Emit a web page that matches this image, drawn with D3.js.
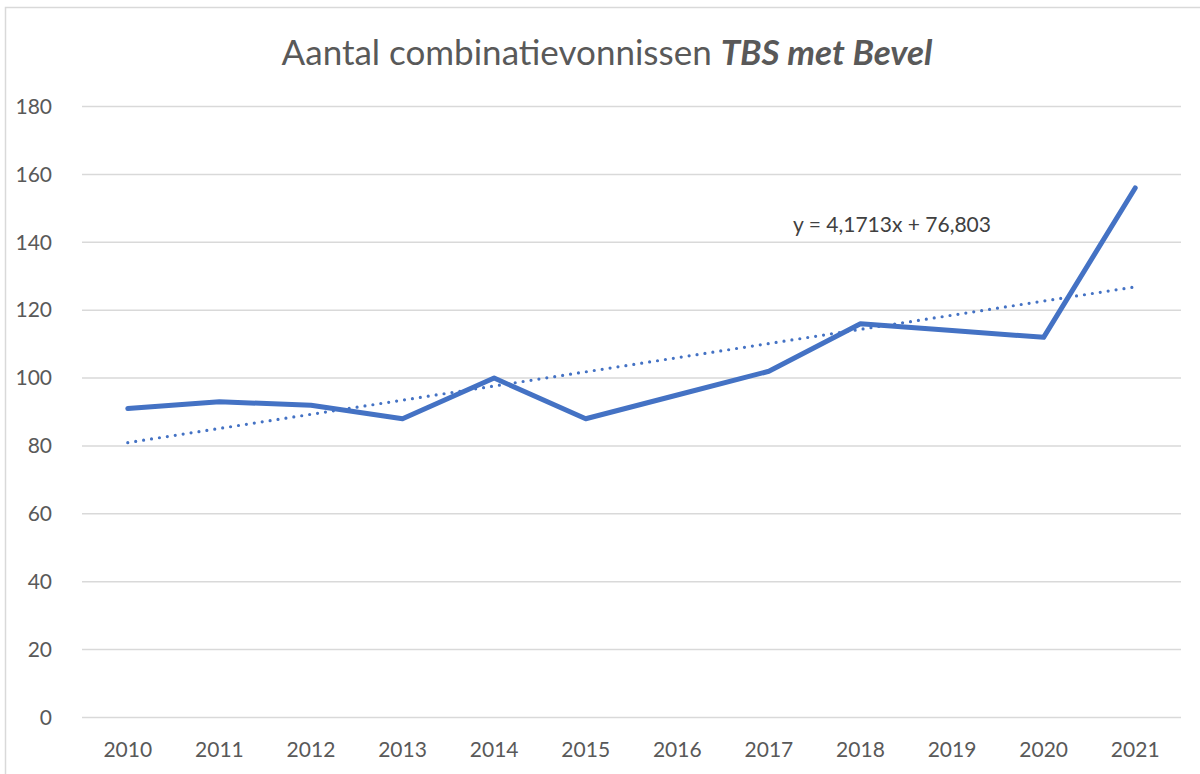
<!DOCTYPE html>
<html><head><meta charset="utf-8">
<script src="https://cdn.jsdelivr.net/npm/d3@7"></script>
<style>body{margin:0;background:#fff;} svg{display:block;}</style>
</head><body>
<script>
const years = ["2010","2011","2012","2013","2014","2015","2016","2017","2018","2019","2020","2021"];
const values = [91,93,92,88,100,88,95,102,116,114,112,156];
const yTicks = [0,20,40,60,80,100,120,140,160,180];
const trendSlope = 4.1713;
const trendIntercept = 76.803;
const trendLabel = "y = 4,1713x + 76,803";
const titleMain = "Aantal combinatievonnissen ";
const titleBold = "TBS met Bevel";

const W = 1200, H = 774;
const FONT = "Lato, 'Open Sans', sans-serif";
const svg = d3.select("body").append("svg").attr("width", W).attr("height", H);

svg.append("rect").attr("x",5.5).attr("y",7.5).attr("width",W+20).attr("height",H+20)
  .attr("fill","#fff").attr("stroke","#d9d9d9").attr("stroke-width",1.5);

const x = d3.scaleBand().domain(years).range([82,1181]);
const y = d3.scaleLinear().domain([0,180]).range([717.5,106.5]);

const title = svg.append("text").attr("x",607).attr("y",65).attr("text-anchor","middle")
  .attr("font-family",FONT).attr("font-size",35).attr("fill","#595959");
title.append("tspan").text(titleMain);
title.append("tspan").attr("font-weight","bold").attr("font-style","italic").text(titleBold);

// gridlines
svg.append("g").selectAll("line").data(yTicks).join("line")
  .attr("x1",82).attr("x2",1181).attr("y1",d=>y(d)).attr("y2",d=>y(d))
  .attr("stroke","#d9d9d9").attr("stroke-width",1.5);

// y axis labels
const yAxis = d3.axisLeft(y).tickValues(yTicks).tickSize(0).tickPadding(0);
const gy = svg.append("g").attr("transform","translate(52,0)").call(yAxis);
gy.select(".domain").remove();
gy.selectAll("text").attr("font-family",FONT).attr("font-size",21).attr("fill","#595959");

// x axis labels
const xAxis = d3.axisBottom(x).tickSize(0).tickPadding(0);
const gx = svg.append("g").attr("transform","translate(0,742)").call(xAxis);
gx.select(".domain").remove();
gx.selectAll("text").attr("font-family",FONT).attr("font-size",21).attr("fill","#595959");

const cx = d => x(d) + x.bandwidth()/2;

// trendline
const trendPts = [1, years.length].map(i => [cx(years[i-1]), y(trendSlope*i + trendIntercept)]);
svg.append("path").attr("d", d3.line()(trendPts)).attr("fill","none")
  .attr("stroke","#4472C4").attr("stroke-width",3.2).attr("stroke-linecap","round")
  .attr("stroke-dasharray","0,8");

// data line
svg.append("path").datum(values.map((v,i)=>[cx(years[i]), y(v)]))
  .attr("d", d3.line()).attr("fill","none").attr("stroke","#4472C4")
  .attr("stroke-width",5).attr("stroke-linejoin","round").attr("stroke-linecap","round");

svg.append("text").attr("x",892).attr("y",231.5).attr("text-anchor","middle")
  .attr("font-family",FONT).attr("font-size",21).attr("fill","#404040").text(trendLabel);
</script>
</body></html>
